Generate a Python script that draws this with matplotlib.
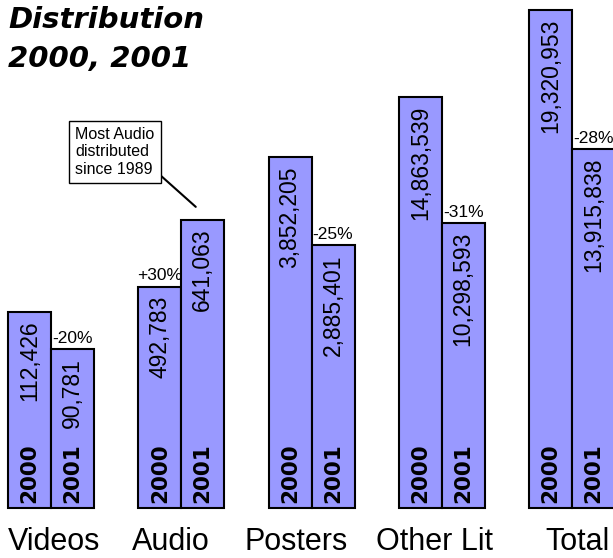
import matplotlib
matplotlib.use('Agg')
import matplotlib.pyplot as plt
from matplotlib import font_manager

# distribution counts per category
categories = ['Videos', 'Audio', 'Posters', 'Other Lit', 'Total']
years = ['2000', '2001']
dist_2000 = [112426, 492783, 3852205, 14863539, 19320953]
dist_2001 = [90781, 641063, 2885401, 10298593, 13915838]
change_labels = ['-20%', '+30%', '-25%', '-31%', '-28%']

# each group has its own vertical scale: drawn height of the 2000 bar (px)
group_height = [196.5, 221.5, 351, 411.5, 498.5]
label_dx = [3, -10, -15, -7, 6]   # nudge of category names, px


def pick(*names):
    have = {f.name for f in font_manager.fontManager.ttflist}
    for n in names:
        if n in have:
            return n
    return 'DejaVu Sans'


cond = pick('DejaVu Sans Condensed', 'Liberation Sans')
narrow = pick('Liberation Sans Narrow', 'DejaVu Sans Condensed', 'Liberation Sans')

W, H = 613, 558
PX = 130.25            # px per category step
x0 = 51                # px of first group centre
base = 508             # baseline, px from top
bw = 43 / PX           # bar width in category units
fill = '#9999ff'

fig = plt.figure(figsize=(W / 100, H / 100), dpi=100)
ax = fig.add_axes([0, 0, 1, 1])
ax.set_xlim(-x0 / PX, (W - x0) / PX)
ax.set_ylim(-(H - base), base)
ax.axis('off')

for i, cat in enumerate(categories):
    s = group_height[i] / dist_2000[i]
    vals = [dist_2000[i], dist_2001[i]]
    hs = [v * s for v in vals]
    xs = [i - bw / 2, i + bw / 2]
    ax.bar(xs, hs, width=bw, color=fill, edgecolor='black', linewidth=1.5, clip_on=False)
    for x, h, v, yr in zip(xs, hs, vals, years):
        ax.text(x, h - 9, f'{v:,}', rotation=90, ha='center', va='top',
                fontsize=16.5, family=cond)
        ax.text(x, 5, yr, rotation=90, ha='center', va='bottom',
                fontsize=15.5, fontweight='bold', family='DejaVu Sans')
    # change label sits over the shorter bar
    k = 0 if hs[0] < hs[1] else 1
    ax.text(xs[k], hs[k] + 6, change_labels[i], ha='center', va='baseline',
            fontsize=12.5, family=narrow)
    ax.text(i + label_dx[i] / PX, -49, cat, ha='center', va='bottom',
            fontsize=22, family=cond)

# callout on the 2001 audio bar
h_audio = dist_2001[1] * group_height[1] / dist_2000[1]
ax.annotate('Most Audio\ndistributed\nsince 1989',
            xy=(1 + bw / 2 - 7 / PX, h_audio + 13), xycoords='data',
            xytext=(75, H - 127), textcoords='figure pixels',
            ha='left', va='top', fontsize=11.5, family='Liberation Sans',
            linespacing=1.2,
            bbox=dict(boxstyle='square,pad=0.4', fc='white', ec='black', lw=1),
            arrowprops=dict(arrowstyle='-', color='black', lw=1.5,
                            relpos=(1.0, 0.14), shrinkA=0, shrinkB=0))

fig.text(8 / W, 1 - 28 / H, 'Distribution', fontsize=21, fontweight='bold',
         fontstyle='italic', family='DejaVu Sans', va='baseline')
fig.text(8 / W, 1 - 67 / H, '2000, 2001', fontsize=21, fontweight='bold',
         fontstyle='italic', family='DejaVu Sans', va='baseline')

fig.savefig('out.png', dpi=100)
